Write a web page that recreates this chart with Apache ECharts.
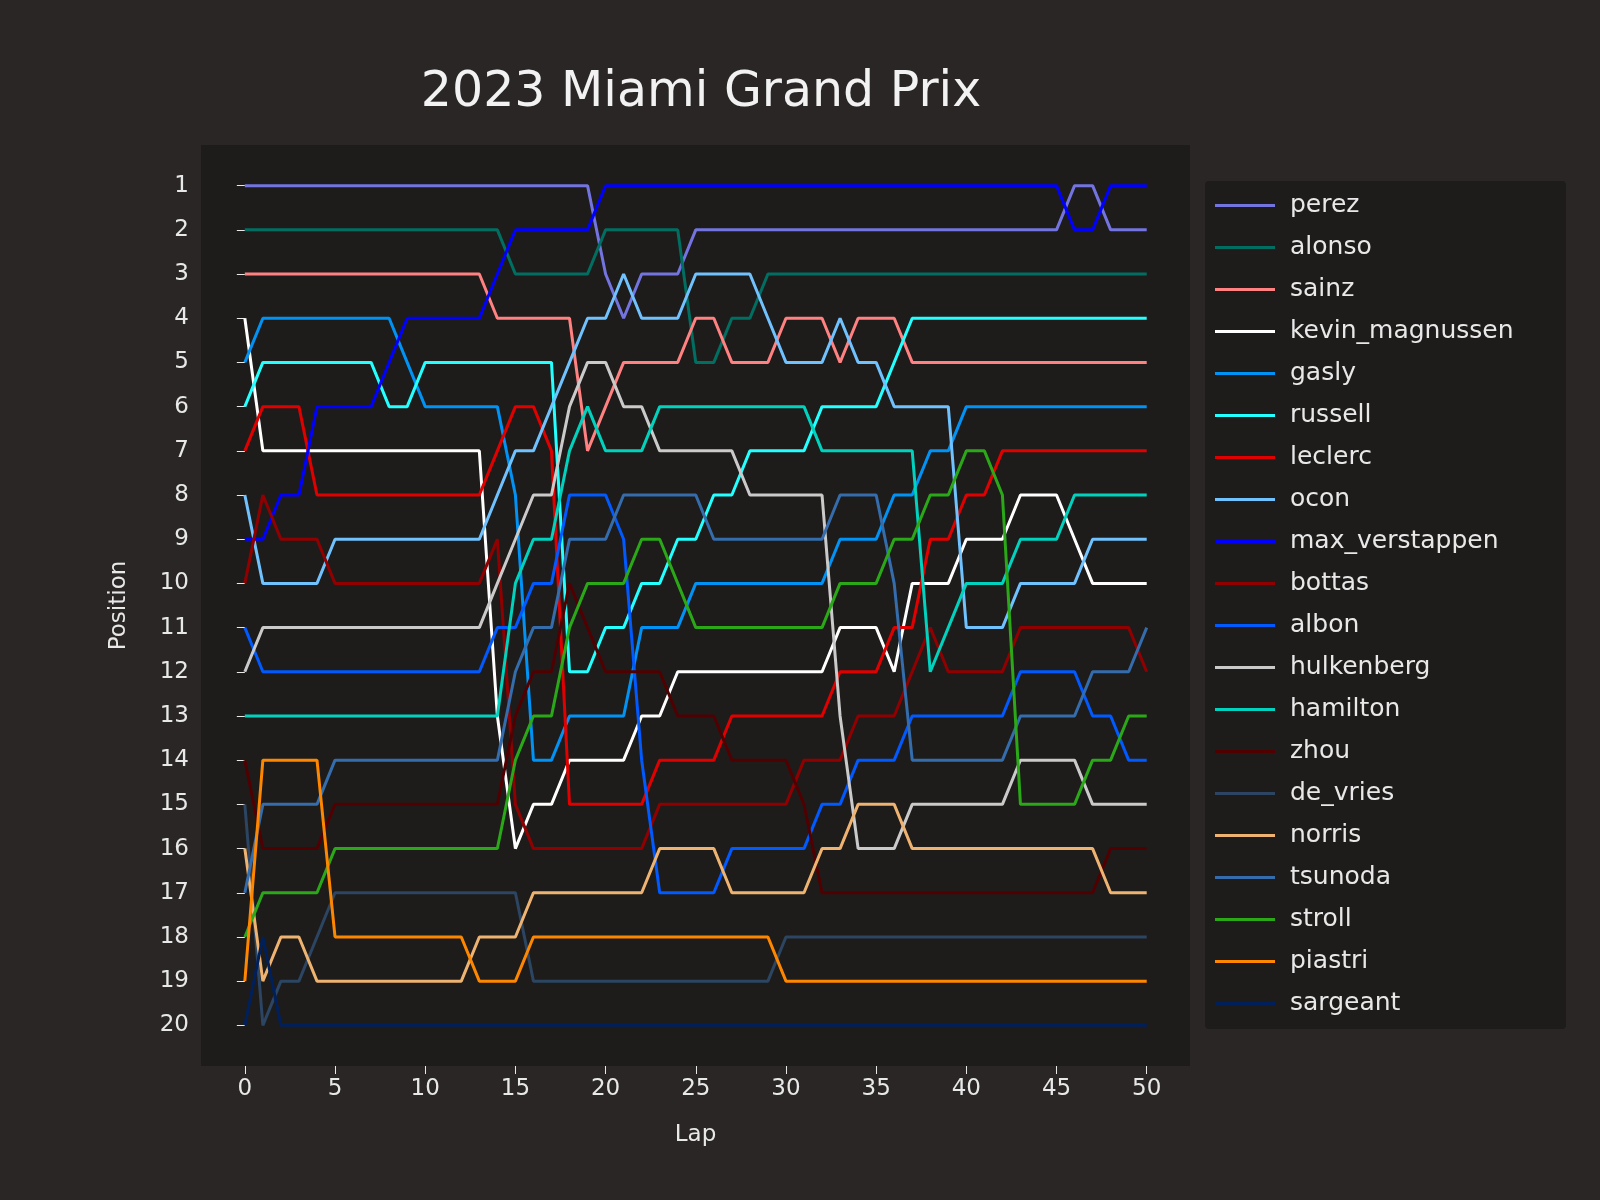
<!DOCTYPE html>
<html style="height: 100%">
<head>
<meta charset="utf-8">
<script src="https://cdn.jsdelivr.net/npm/echarts@6/dist/echarts.min.js"></script>
</head>
<body style="height: 100%; margin: 0; background: #292625">
<div id="container" style="width: 1600px; height: 1200px"></div>
<script type="text/javascript">
// lap-by-lap positions, laps 0..50
function runs(list) {
    var out = [];
    for (var i = 0; i < list.length; i += 2) {
        for (var k = 0; k < list[i + 1]; k++) out.push(list[i]);
    }
    return out;
}
var laps = [];
for (var l = 0; l <= 50; l++) laps.push(l);
var xTicks = [0, 5, 10, 15, 20, 25, 30, 35, 40, 45, 50];
var yTicks = [1, 2, 3, 4, 5, 6, 7, 8, 9, 10, 11, 12, 13, 14, 15, 16, 17, 18, 19, 20];

// [position, number of laps] pairs
var perez = runs([1,20, 3,1, 4,1, 3,3, 2,21, 1,2, 2,3]);
var alonso = runs([2,15, 3,5, 2,5, 5,2, 4,2, 3,22]);
var sainz = runs([3,14, 4,5, 7,1, 6,1, 5,4, 4,2, 5,3, 4,3, 5,1, 4,3, 5,14]);
var kevin_magnussen = runs([4,1, 7,13, 13,1, 16,1, 15,2, 14,4, 13,2, 12,9, 11,3, 12,1, 10,3, 9,3, 8,3, 9,1, 10,4]);
var gasly = runs([5,1, 4,8, 5,1, 6,5, 8,1, 14,2, 13,4, 11,3, 10,8, 9,3, 8,2, 7,2, 6,11]);
var russell = runs([6,1, 5,7, 6,2, 5,8, 12,2, 11,2, 10,2, 9,2, 8,2, 7,4, 6,4, 5,1, 4,14]);
var leclerc = runs([7,1, 6,3, 8,10, 7,1, 6,2, 7,1, 15,5, 14,4, 13,6, 12,3, 11,2, 9,2, 8,2, 7,9]);
var ocon = runs([8,1, 10,4, 9,9, 8,1, 7,2, 6,1, 5,1, 4,2, 3,1, 4,3, 3,4, 4,1, 5,3, 4,1, 5,2, 6,4, 11,3, 10,4, 9,4]);
var max_verstappen = runs([9,2, 8,2, 6,4, 5,1, 4,5, 3,1, 2,5, 1,26, 2,2, 1,3]);
var bottas = runs([10,1, 8,1, 9,3, 10,9, 9,1, 15,1, 16,7, 15,8, 14,3, 13,3, 12,1, 11,1, 12,4, 11,7, 12,1]);
var albon = runs([11,1, 12,13, 11,2, 10,2, 8,3, 9,1, 14,1, 17,4, 16,5, 15,2, 14,3, 13,6, 12,4, 13,2, 14,2]);
var hulkenberg = runs([12,1, 11,13, 10,1, 9,1, 8,2, 6,1, 5,2, 6,2, 7,5, 8,5, 13,1, 16,3, 15,6, 14,4, 15,4]);
var hamilton = runs([13,15, 10,1, 9,2, 7,1, 6,1, 7,3, 6,9, 7,6, 12,1, 11,1, 10,3, 9,3, 8,5]);
var zhou = runs([14,1, 16,4, 15,10, 13,1, 12,2, 10,1, 11,1, 12,4, 13,3, 14,4, 15,1, 17,16, 16,3]);
var de_vries = runs([15,1, 20,1, 19,2, 18,1, 17,11, 19,14, 18,21]);
var norris = runs([16,1, 19,1, 18,2, 19,9, 18,3, 17,7, 16,4, 17,5, 16,2, 15,3, 16,11, 17,3]);
var tsunoda = runs([17,1, 15,4, 14,10, 12,1, 11,2, 9,3, 8,5, 9,7, 8,3, 10,1, 14,6, 13,4, 12,3, 11,1]);
var stroll = runs([18,1, 17,4, 16,10, 14,1, 13,2, 11,1, 10,3, 9,2, 10,1, 11,8, 10,3, 9,2, 8,2, 7,2, 8,1, 15,4, 14,2, 13,2]);
var piastri = runs([19,1, 14,4, 18,8, 19,3, 18,14, 19,21]);
var sargeant = runs([20,1, 18,1, 20,49]);

var drivers = [
    ['perez', perez, '#7474e0'],
    ['alonso', alonso, '#006f62'],
    ['sainz', sainz, '#ff8181'],
    ['kevin_magnussen', kevin_magnussen, '#ffffff'],
    ['gasly', gasly, '#0093f5'],
    ['russell', russell, '#24ffff'],
    ['leclerc', leclerc, '#e00000'],
    ['ocon', ocon, '#70c2ff'],
    ['max_verstappen', max_verstappen, '#0000ff'],
    ['bottas', bottas, '#900000'],
    ['albon', albon, '#005aff'],
    ['hulkenberg', hulkenberg, '#cacaca'],
    ['hamilton', hamilton, '#00d2be'],
    ['zhou', zhou, '#500000'],
    ['de_vries', de_vries, '#2b4562'],
    ['norris', norris, '#eeb370'],
    ['tsunoda', tsunoda, '#356cac'],
    ['stroll', stroll, '#2aa818'],
    ['piastri', piastri, '#ff8700'],
    ['sargeant', sargeant, '#00205b']
];

var series = drivers.map(function (d) {
    return {
        name: d[0],
        type: 'line',
        showSymbol: false,
        data: laps.map(function (x, i) { return [x, d[1][i]]; }),
        lineStyle: {width: 3, color: d[2]},
        itemStyle: {color: d[2]},
        z: 2
    };
});

var txt = '#e8e8e8';
var myChart = echarts.init(document.getElementById('container'));
var option = {
    backgroundColor: '#292625',
    animation: false,
    title: {
        text: '2023 Miami Grand Prix',
        left: 696, top: 64, textAlign: 'center',
        textStyle: {color: '#f2f2f2', fontSize: 49, fontWeight: 'normal', fontFamily: 'DejaVu Sans'}
    },
    grid: {left: 201, top: 145, width: 989, height: 921, show: true, backgroundColor: '#1e1c1b', borderWidth: 0},
    legend: {
        orient: 'vertical', left: 1205, top: 181, width: 360,
        backgroundColor: '#1e1c1b', borderRadius: 4,
        padding: [11, 14, 12, 10],
        icon: 'rect', itemWidth: 60, itemHeight: 3, itemGap: 15,
        textStyle: {color: txt, fontSize: 25, lineHeight: 27, width: 262, fontFamily: 'DejaVu Sans', padding: [0, 0, 0, 10]},
        data: drivers.map(function (d) { return d[0]; })
    },
    xAxis: {
        type: 'value', min: -2.43, max: 52.4,
        name: 'Lap', nameLocation: 'middle', nameGap: 58,
        nameTextStyle: {color: txt, fontSize: 23, fontFamily: 'DejaVu Sans'},
        axisLine: {show: false},
        splitLine: {show: false},
        axisTick: {show: true, length: 8, lineStyle: {color: txt}, customValues: xTicks},
        axisLabel: {color: txt, fontSize: 23, fontFamily: 'DejaVu Sans', customValues: xTicks, margin: 12}
    },
    yAxis: {
        type: 'value', inverse: true, min: 0.08, max: 20.92,
        name: 'Position', nameLocation: 'middle', nameGap: 70,
        nameTextStyle: {color: txt, fontSize: 23, fontFamily: 'DejaVu Sans'},
        axisLine: {show: false},
        splitLine: {show: false},
        axisTick: {show: true, length: 8, lineStyle: {color: txt}, customValues: yTicks},
        axisLabel: {color: txt, fontSize: 23, fontFamily: 'DejaVu Sans', customValues: yTicks, margin: 12}
    },
    series: series
};
myChart.setOption(option, true);
</script>
</body>
</html>
